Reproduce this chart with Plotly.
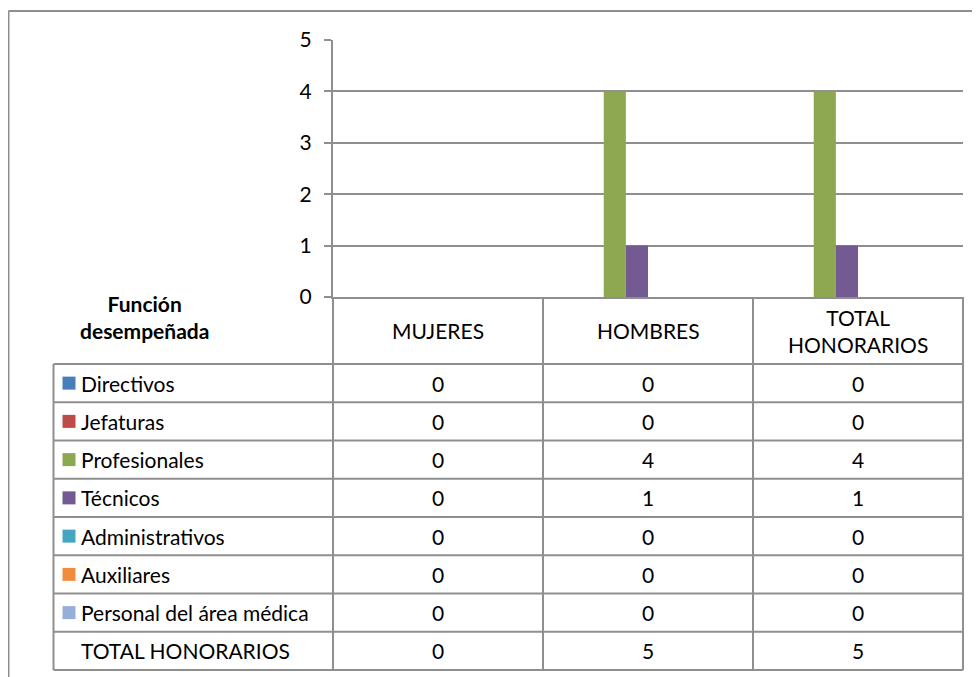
import plotly.graph_objects as go

# Datos de la tabla
categorias = ["MUJERES", "HOMBRES", "TOTAL HONORARIOS"]
funciones = ["Directivos", "Jefaturas", "Profesionales", "Técnicos",
             "Administrativos", "Auxiliares", "Personal del área médica",
             "TOTAL HONORARIOS"]
mujeres = [0, 0, 0, 0, 0, 0, 0, 0]
hombres = [0, 0, 4, 1, 0, 0, 0, 5]
total_honorarios = [0, 0, 4, 1, 0, 0, 0, 5]
colores = ["#4A7EBB", "#BE4B48", "#8DA850", "#735A93",
           "#46A5C0", "#F08C3E", "#97AED8", "rgba(0,0,0,0)"]
y_ticks = [0, 1, 2, 3, 4, 5]

W, H = 980, 677
OFF = 8  # margen del body del navegador
L, R, T, B = 333, 963, 40, 297  # area del grafico en pixeles de la pagina
GRIS = "#8F8F8F"
FUENTE = "Lato, 'Open Sans', sans-serif"
TAM = 21


def px_x(x):
    return (x - L) / (R - L)


def px_y(y):
    return (B - y) / (B - T)


fig = go.Figure()

# Barras (la fila TOTAL va sin relleno, como en el original)
for i, nombre in enumerate(funciones):
    fig.add_trace(go.Bar(
        x=categorias,
        y=[mujeres[i], hombres[i], total_honorarios[i]],
        name=nombre,
        marker=dict(color=colores[i], line=dict(width=0)),
        showlegend=False,
    ))

shapes = []
annotations = []


def linea(x0, y0, x1, y1):
    shapes.append(dict(type="line", xref="paper", yref="paper",
                       x0=px_x(x0), y0=px_y(y0), x1=px_x(x1), y1=px_y(y1),
                       line=dict(color=GRIS, width=2)))


# Marco exterior (sale fuera de la imagen a la derecha y abajo)
linea(8.5, 11, 1000, 11)
linea(8.5, 11, 8.5, 700)

# Tabla de datos
fila_ini = 364
alto_fila = 38.25
col_x = [L, 543, 753, R]
tabla_izq = 53.5
fila_fin = fila_ini + alto_fila * len(funciones)

linea(tabla_izq, fila_ini, R, fila_ini)
for k in range(1, len(funciones) + 1):
    y = fila_ini + alto_fila * k
    linea(tabla_izq, y, R, y)
linea(tabla_izq, fila_ini, tabla_izq, fila_fin)
for x in col_x:
    linea(x, B, x, fila_fin)

# Encabezados
annotations.append(dict(
    x=px_x(144), y=px_y(317), xref="paper", yref="paper",
    text="<b>Función<br>desempeñada</b>", showarrow=False,
    font=dict(size=TAM, color="black", family=FUENTE),
    xanchor="center", yanchor="middle"))
for j, cat in enumerate(categorias):
    cx = (col_x[j] + col_x[j + 1]) / 2
    texto = cat.replace(" ", "<br>")
    annotations.append(dict(
        x=px_x(cx), y=px_y((B + fila_ini) / 2), xref="paper", yref="paper",
        text=texto, showarrow=False,
        font=dict(size=TAM, color="black", family=FUENTE),
        xanchor="center", yanchor="middle"))

# Filas
columnas = [mujeres, hombres, total_honorarios]
for i, nombre in enumerate(funciones):
    cy = fila_ini + alto_fila * (i + 0.5)
    if i < len(funciones) - 1:
        shapes.append(dict(type="rect", xref="paper", yref="paper",
                           x0=px_x(62.5), x1=px_x(75.5),
                           y0=px_y(cy - 6.5), y1=px_y(cy + 6.5),
                           fillcolor=colores[i], line=dict(width=0)))
    annotations.append(dict(
        x=px_x(79), y=px_y(cy), xref="paper", yref="paper",
        text=nombre, showarrow=False,
        font=dict(size=TAM, color="black", family=FUENTE),
        xanchor="left", yanchor="middle"))
    for j, col in enumerate(columnas):
        cx = (col_x[j] + col_x[j + 1]) / 2
        annotations.append(dict(
            x=px_x(cx), y=px_y(cy), xref="paper", yref="paper",
            text=str(col[i]), showarrow=False,
            font=dict(size=TAM, color="black", family=FUENTE),
            xanchor="center", yanchor="middle"))

fig.update_layout(
    width=W - OFF, height=H - OFF,
    margin=dict(l=L - OFF, r=W - R, t=T - OFF, b=H - B, pad=0),
    paper_bgcolor="white", plot_bgcolor="white",
    barmode="group", bargap=0.157, bargroupgap=0,
    font=dict(family=FUENTE, size=TAM, color="black"),
    shapes=shapes, annotations=annotations,
)
fig.update_xaxes(showticklabels=False, showgrid=False, zeroline=False,
                 showline=True, linecolor=GRIS, linewidth=2, ticks="")
fig.update_yaxes(range=[0, 5], tickvals=y_ticks, showgrid=True,
                 gridcolor=GRIS, gridwidth=2, zeroline=False,
                 showline=True, linecolor=GRIS, linewidth=2,
                 ticks="outside", ticklen=7, tickwidth=2, tickcolor=GRIS,
                 ticklabelstandoff=8,
                 tickfont=dict(size=TAM, color="black", family=FUENTE))

fig.write_html("out.html")
